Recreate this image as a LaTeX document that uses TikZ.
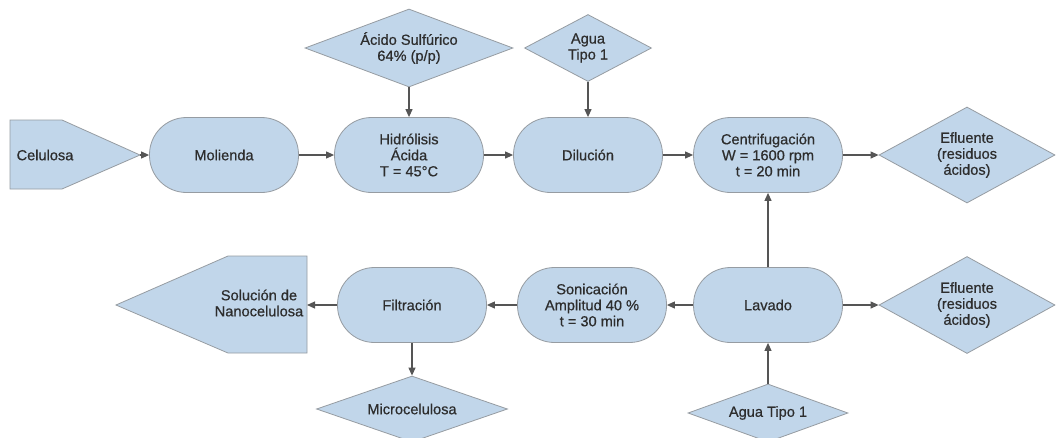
\documentclass[tikz,border=0pt]{standalone}
\usepackage{fontspec}
\setmainfont{Liberation Sans}[FakeBold=0.6]
\usetikzlibrary{shapes.geometric,arrows.meta}
\definecolor{boxfill}{RGB}{193,214,234}
\definecolor{boxdraw}{RGB}{150,156,162}
\definecolor{arrcol}{RGB}{85,85,85}
\definecolor{txtcol}{RGB}{45,45,45}
\newcommand\diafont{\fontsize{14.6}{16}\selectfont}
\begin{document}
\begin{tikzpicture}[x=1pt,y=-1pt,
  proc/.style={draw=boxdraw,line width=0.8pt,fill=boxfill,rounded corners=37pt,minimum width=149pt,minimum height=75pt,align=center,text=txtcol,font=\diafont,inner sep=0pt},
  dia/.style={draw=boxdraw,line width=0.8pt,fill=boxfill,diamond,inner sep=0pt,align=center,text=txtcol,font=\diafont},
  pent/.style={draw=boxdraw,line width=0.8pt,fill=boxfill},
  lbl/.style={align=center,text=txtcol,font=\diafont,inner sep=0pt},
  flow/.style={draw=arrcol,line width=1.1pt,-{Triangle[length=8pt,width=7pt]}}]
\useasboundingbox (0,0) rectangle (1056,437);
\fill[white] (0,0) rectangle (1056,437);
\clip (0,0) rectangle (1056,437);

% top row
\draw[pent] (10,120) -- (62,120) -- (140,155) -- (62,189) -- (10,189) -- cycle;
\node[lbl] (cel) at (45,155) {Celulosa};
\coordinate (celtip) at (140,155);
\node[proc] (mol) at (224,155) {Molienda};
\node[proc] (hid) at (409,155) {Hidrólisis\\Ácida\\T = 45°C};
\node[proc] (dil) at (588,155) {Dilución};
\node[proc] (cen) at (768,155) {Centrifugación\\W = 1600 rpm\\t = 20 min};
\node[dia,minimum width=176pt,minimum height=96pt,aspect=1.83] (ef1) at (967,155) {Efluente\\(residuos\\ácidos)};
\node[dia,minimum width=208pt,minimum height=78pt,aspect=2.67] (acid) at (409,48) {Ácido Sulfúrico\\64\% (p/p)};
\node[dia,minimum width=127pt,minimum height=67pt,aspect=1.9] (agua1) at (588,48) {Agua\\Tipo 1};

% bottom row
\node[proc] (lav) at (768,305) {Lavado};
\node[proc] (son) at (592,305) {Sonicación\\Amplitud 40 \%\\t = 30 min};
\node[proc] (fil) at (412,305) {Filtración};
\draw[pent] (307,256) -- (228,256) -- (116,305) -- (228,353) -- (307,353) -- cycle;
\node[lbl] (sol) at (259,303) {Solución de\\Nanocelulosa};
\coordinate (soltip) at (307,305);
\node[dia,minimum width=191pt,minimum height=66pt,aspect=2.9] (micro) at (412,409) {Microcelulosa};
\node[dia,minimum width=160pt,minimum height=58pt,aspect=2.76] (agua2) at (768,413) {Agua Tipo 1};
\node[dia,minimum width=176pt,minimum height=97pt,aspect=1.81] (ef2) at (967,305) {Efluente\\(residuos\\ácidos)};

% connectors
\draw[flow] (celtip) -- (mol);
\draw[flow] (mol) -- (hid);
\draw[flow] (hid) -- (dil);
\draw[flow] (dil) -- (cen);
\draw[flow] (cen) -- (ef1);
\draw[flow] (acid) -- (hid);
\draw[flow] (agua1) -- (dil);
\draw[flow] (lav) -- (cen);
\draw[flow] (lav) -- (son);
\draw[flow] (son) -- (fil);
\draw[flow] (fil) -- (soltip);
\draw[flow] (lav) -- (ef2);
\draw[flow] (agua2) -- (lav);
\draw[flow] (fil) -- (micro);
\end{tikzpicture}
\end{document}
